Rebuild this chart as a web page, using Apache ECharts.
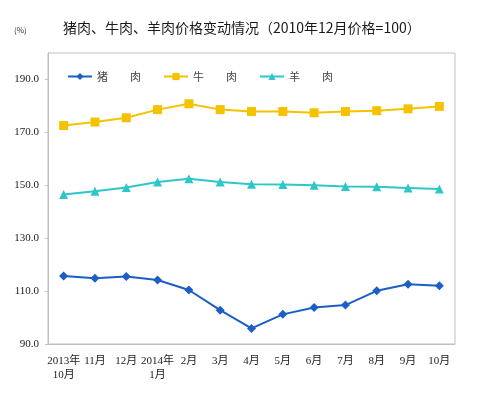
<!DOCTYPE html>
<html>
<head>
<meta charset="utf-8">
<script src="https://cdn.jsdelivr.net/npm/echarts@6/dist/echarts.min.js"></script>
<style>
    html, body { margin: 0; padding: 0; background: #fff; }
    #chart { width: 500px; height: 397px; }
</style>
</head>
<body>
<div id="chart"></div>
<script>
// months from 2013-10 to 2014-10
const months = ['2013年\n10月', '11月', '12月', '2014年\n1月', '2月', '3月', '4月', '5月', '6月', '7月', '8月', '9月', '10月'];
const pork = [115.7, 114.9, 115.5, 114.2, 110.4, 102.8, 95.9, 101.2, 103.8, 104.7, 110.1, 112.6, 112.0];
const beef = [172.6, 173.9, 175.5, 178.6, 180.8, 178.6, 177.9, 177.9, 177.4, 177.9, 178.2, 178.9, 179.8];
const lamb = [146.5, 147.7, 149.2, 151.2, 152.5, 151.2, 150.4, 150.3, 150.0, 149.5, 149.4, 149.0, 148.6];
const seriesNames = ['猪　　肉', '牛　　肉', '羊　　肉'];

const cjk = '"Noto Sans CJK SC", sans-serif';
const numFont = '"Liberation Serif", "Noto Sans CJK SC", serif';

function makeSeries(name, data, color, symbol, size) {
    return {
        name: name,
        type: 'line',
        data: data,
        symbol: symbol,
        symbolSize: size,
        lineStyle: { color: color, width: 2 },
        itemStyle: { color: color },
        emphasis: { disabled: true }
    };
}

const chart = echarts.init(document.getElementById('chart'));
chart.setOption({
    animation: false,
    backgroundColor: '#fff',
    title: [{
        text: '猪肉、牛肉、羊肉价格变动情况（2010年12月价格=100）',
        left: 58,
        top: 16,
        textStyle: { fontFamily: cjk, fontSize: 14, fontWeight: 'normal', color: '#1a1a1a' }
    }, {
        text: '(%)',
        left: 9,
        top: 21,
        textStyle: { fontFamily: cjk, fontSize: 8, fontWeight: 'normal', color: '#333' }
    }],
    legend: {
        left: 62,
        top: 66,
        itemWidth: 24,
        itemHeight: 9,
        itemGap: 22,
        textStyle: { fontFamily: cjk, fontSize: 11, color: '#444' },
        data: seriesNames
    },
    grid: {
        left: 48,
        right: 45,
        top: 53,
        bottom: 53,
        show: true,
        borderColor: '#c0c0c0',
        borderWidth: 1
    },
    xAxis: {
        type: 'category',
        data: months,
        boundaryGap: true,
        axisLine: { lineStyle: { color: '#c0c0c0' } },
        axisTick: { show: false },
        axisLabel: {
            interval: 0,
            margin: 10,
            fontFamily: numFont,
            fontSize: 11,
            lineHeight: 14,
            color: '#222'
        }
    },
    yAxis: {
        type: 'value',
        min: 90,
        max: 200,
        interval: 20,
        splitLine: { show: false },
        axisLine: { show: true, lineStyle: { color: '#c0c0c0' } },
        axisTick: { show: true, length: 3, lineStyle: { color: '#c0c0c0' } },
        axisLabel: {
            showMaxLabel: false,
            margin: 9,
            fontFamily: numFont,
            fontSize: 11,
            color: '#222',
            formatter: function (v) { return v.toFixed(1); }
        }
    },
    series: [
        makeSeries(seriesNames[0], pork, '#1b5ec6', 'diamond', 9),
        makeSeries(seriesNames[1], beef, '#f5c200', 'rect', 9),
        makeSeries(seriesNames[2], lamb, '#2ec7c9', 'triangle', 9)
    ]
});
</script>
</body>
</html>
